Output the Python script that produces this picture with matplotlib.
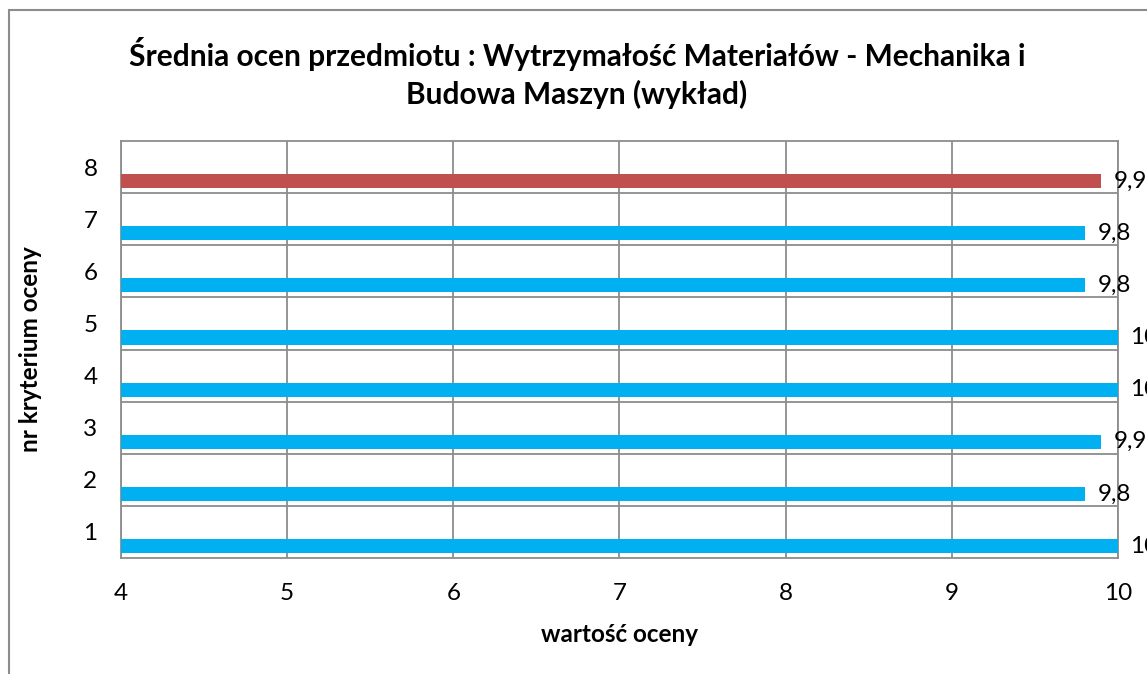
import matplotlib.pyplot as plt
from matplotlib.patches import Rectangle

plt.rcParams['font.family'] = ['Lato', 'DejaVu Sans']

kryteria = [1, 2, 3, 4, 5, 6, 7, 8]
srednie = [10, 9.8, 9.9, 10, 10, 9.8, 9.8, 9.9]
kolory = ['#00B0F0'] * 7 + ['#C0504D']
x_ticks = [4, 5, 6, 7, 8, 9, 10]

fig = plt.figure(figsize=(11.47, 6.74), dpi=100)
ax = fig.add_axes([121 / 1147, 1 - 558 / 674, (1118 - 121) / 1147, (558 - 141) / 674])

# chart border (Excel chart area)
fig.patches.append(Rectangle((9 / 1147, -0.1), 1.2, 1 - 10 / 674 + 0.1,
                             transform=fig.transFigure, fill=False,
                             edgecolor='#8c8c8c', linewidth=1.5))

off = 0.27
ypos = [k - off for k in kryteria]
ax.barh(ypos, srednie, height=0.27, color=kolory, zorder=3)

for y, v in zip(ypos, srednie):
    txt = f"{v:g}".replace('.', ',')
    ax.annotate(txt, (v, y), xytext=(9, 0), textcoords='offset points',
                va='center', ha='left', fontsize=17.5, annotation_clip=False)

ax.set_xlim(4, 10)
ax.set_ylim(0.5, 8.5)
ax.set_xticks(x_ticks)
ax.set_yticks(kryteria)
ax.set_yticks([k + 0.5 for k in kryteria[:-1]], minor=True)
ax.tick_params(axis='both', which='both', length=0, labelsize=17.5)
ax.tick_params(axis='x', pad=18)
ax.tick_params(axis='y', pad=17)
ax.grid(axis='x', which='major', color='#8c8c8c', linewidth=1.3, zorder=0)
ax.grid(axis='y', which='minor', color='#8c8c8c', linewidth=1.3, zorder=0)
for s in ax.spines.values():
    s.set_color('#8c8c8c')
    s.set_linewidth(1.3)

ax.set_xlabel('wartość oceny', fontsize=17.5, fontweight='bold', labelpad=14)
ax.set_ylabel('nr kryterium oceny', fontsize=17.5, fontweight='bold', labelpad=20)
ax.yaxis.set_label_coords(-79 / 997, 0.5)
fig.text(0.503, 1 - 73 / 674,
         'Średnia ocen przedmiotu : Wytrzymałość Materiałów - Mechanika i\nBudowa Maszyn (wykład)',
         ha='center', va='center', fontsize=21.5, fontweight='bold', linespacing=1.4)

fig.savefig('out.png', dpi=100)
